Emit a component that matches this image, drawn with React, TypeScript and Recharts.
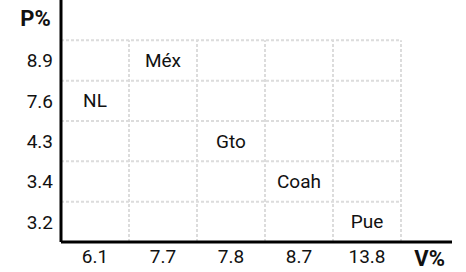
import { ReferenceLine, Scatter, ScatterChart, XAxis, YAxis, Label } from "recharts";

const states = ["NL", "Méx", "Gto", "Coah", "Pue"];
const vPct = [6.1, 7.7, 7.8, 8.7, 13.8];
const pPct = [7.6, 8.9, 4.3, 3.4, 3.2];

// tick labels, in axis order (left→right, bottom→top)
const vTicks = [6.1, 7.7, 7.8, 8.7, 13.8];
const pTicks = [3.2, 3.4, 4.3, 7.6, 8.9];

// each value sits in the middle of its rank cell
const data = states.map((name, i) => ({
  name,
  x: vTicks.indexOf(vPct[i]) + 0.5,
  y: pTicks.indexOf(pPct[i]) + 0.5,
}));

const cells = [1, 2, 3, 4, 5];
const FONT = "Roboto, sans-serif";
const gridStroke = "#dcdcdc";

const CellLabel = (props: any) => (
  <text
    x={props.cx}
    y={props.cy}
    textAnchor="middle"
    dominantBaseline="central"
    fontSize={19}
    fontFamily={FONT}
    fill="#111"
  >
    {props.payload.name}
  </text>
);

export default function App() {
  return (
    <div style={{ width: 466, height: 272 }}>
      <style>{"body{margin:0}"}</style>
      <ScatterChart
        width={466}
        height={272}
        margin={{ top: 0, right: 14, bottom: 0, left: 0 }}
        style={{ fontFamily: FONT }}
      >
        {cells.map((c) => (
          <ReferenceLine
            key={"h" + c}
            segment={[{ x: 0, y: c }, { x: 5, y: c }]}
            stroke={gridStroke}
            strokeWidth={2}
            strokeDasharray="3 2"
          />
        ))}
        {cells.map((c) => (
          <ReferenceLine
            key={"v" + c}
            segment={[{ x: c, y: 0 }, { x: c, y: 5 }]}
            stroke={gridStroke}
            strokeWidth={2}
            strokeDasharray="3 2"
          />
        ))}
        <XAxis
          type="number"
          dataKey="x"
          domain={[0, 5.75]}
          ticks={[0.5, 1.5, 2.5, 3.5, 4.5]}
          tickFormatter={(v: number) => String(vTicks[Math.floor(v)])}
          height={30}
          axisLine={{ stroke: "#000", strokeWidth: 3 }}
          tickLine={false}
          tick={{ fill: "#111", fontSize: 19, fontFamily: FONT }}
          allowDataOverflow
        >
          <Label
            value="V%"
            position="insideRight"
            offset={7}
            dy={1}
            style={{ fontWeight: "bold", fontSize: 22, fill: "#111", fontFamily: FONT }}
          />
        </XAxis>
        <YAxis
          type="number"
          dataKey="y"
          domain={[0, 6]}
          ticks={[0.5, 1.5, 2.5, 3.5, 4.5]}
          tickFormatter={(v: number) => String(pTicks[Math.floor(v)])}
          width={61}
          axisLine={{ stroke: "#000", strokeWidth: 3 }}
          tickLine={false}
          tick={{ fill: "#111", fontSize: 19, fontFamily: FONT }}
          allowDataOverflow
        >
          <Label
            value="P%"
            position="insideTop"
            offset={10}
            dx={5}
            style={{ fontWeight: "bold", fontSize: 22, fill: "#111", fontFamily: FONT }}
          />
        </YAxis>
        <Scatter data={data} shape={CellLabel} isAnimationActive={false} />
      </ScatterChart>
    </div>
  );
}
